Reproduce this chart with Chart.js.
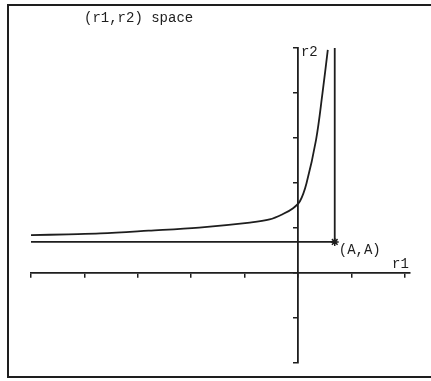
<!DOCTYPE html>
<html>
<head>
<meta charset="utf-8">
<script src="https://cdn.jsdelivr.net/npm/chart.js@4.4.1/dist/chart.umd.min.js"></script>
<style>
  body { margin: 0; background: #fff; overflow: hidden; }
  #wrap { position: relative; width: 431px; height: 381px; overflow: hidden; }
  #frame {
    position: absolute; left: 7px; top: 4px; width: 460px; height: 370px;
    border: 2px solid #1e1e1e; border-right: none; pointer-events: none;
  }
</style>
</head>
<body>
<div id="wrap">
  <canvas id="chart" width="431" height="381"></canvas>
  <div id="frame"></div>
</div>
<script>
// values (one tick = 1 unit on both axes)
const curveR1 = [-5.0, -4.3, -3.7, -2.8, -1.85, -0.9, -0.53, -0.28, -0.09, 0.04, 0.16, 0.34, 0.46, 0.56];
const curveR2 = [0.84, 0.86, 0.88, 0.94, 1.01, 1.12, 1.19, 1.31, 1.44, 1.6, 1.99, 2.96, 3.99, 4.96];
const A = 0.69;
const guideR1 = [-5, A, A];
const guideR2 = [A, A, 5];
const xRange = [-5, 2.1];
const yRange = [-2, 5];

const ink = '#1e1e1e';
const font = '14px "Liberation Mono", monospace';

const toPoints = (xs, ys) => xs.map((x, i) => ({x: x, y: ys[i]}));

// labels: title, axis names and the (A,A) point
const textPlugin = {
    id: 'texts',
    afterDraw(chart) {
        const ctx = chart.ctx;
        const sx = chart.scales.x, sy = chart.scales.y;
        ctx.save();
        ctx.fillStyle = ink;
        ctx.font = font;
        ctx.textBaseline = 'alphabetic';
        ctx.fillText('(r1,r2) space', 84, 22);
        ctx.fillText('r2', sx.getPixelForValue(0) + 3, sy.getPixelForValue(5) + 8);
        ctx.fillText('r1', sx.right - 18, sy.getPixelForValue(0) - 5);
        ctx.fillText('(A,A)', sx.getPixelForValue(A) + 4, sy.getPixelForValue(A) + 12);
        ctx.restore();
    }
};

new Chart(document.getElementById('chart'), {
    type: 'line',
    data: {
        datasets: [
            {
                data: toPoints(curveR1, curveR2),
                borderColor: ink,
                borderWidth: 1.8,
                pointRadius: 0,
                tension: 0.35
            },
            {
                data: toPoints(guideR1, guideR2),
                borderColor: ink,
                borderWidth: 1.8,
                pointRadius: [0, 4, 0],
                pointStyle: 'star',
                pointBorderColor: ink,
                pointBorderWidth: 1.5,
                tension: 0
            }
        ]
    },
    options: {
        responsive: false,
        animation: false,
        layout: { padding: { left: 31, right: 21, top: 48, bottom: 18 } },
        plugins: { legend: { display: false }, tooltip: { enabled: false }, title: { display: false } },
        scales: {
            x: {
                type: 'linear',
                min: xRange[0], max: xRange[1],
                position: { y: 0 },
                ticks: { display: false, stepSize: 1, includeBounds: false },
                grid: { drawOnChartArea: false, drawTicks: true, tickLength: 4, color: ink, lineWidth: 1.5 },
                border: { display: true, color: ink, width: 1.8 }
            },
            y: {
                type: 'linear',
                min: yRange[0], max: yRange[1],
                position: { x: 0 },
                ticks: { display: false, stepSize: 1 },
                grid: { drawOnChartArea: false, drawTicks: true, tickLength: 4, color: ink, lineWidth: 1.5 },
                border: { display: true, color: ink, width: 1.8 }
            }
        }
    },
    plugins: [textPlugin]
});
</script>
</body>
</html>
